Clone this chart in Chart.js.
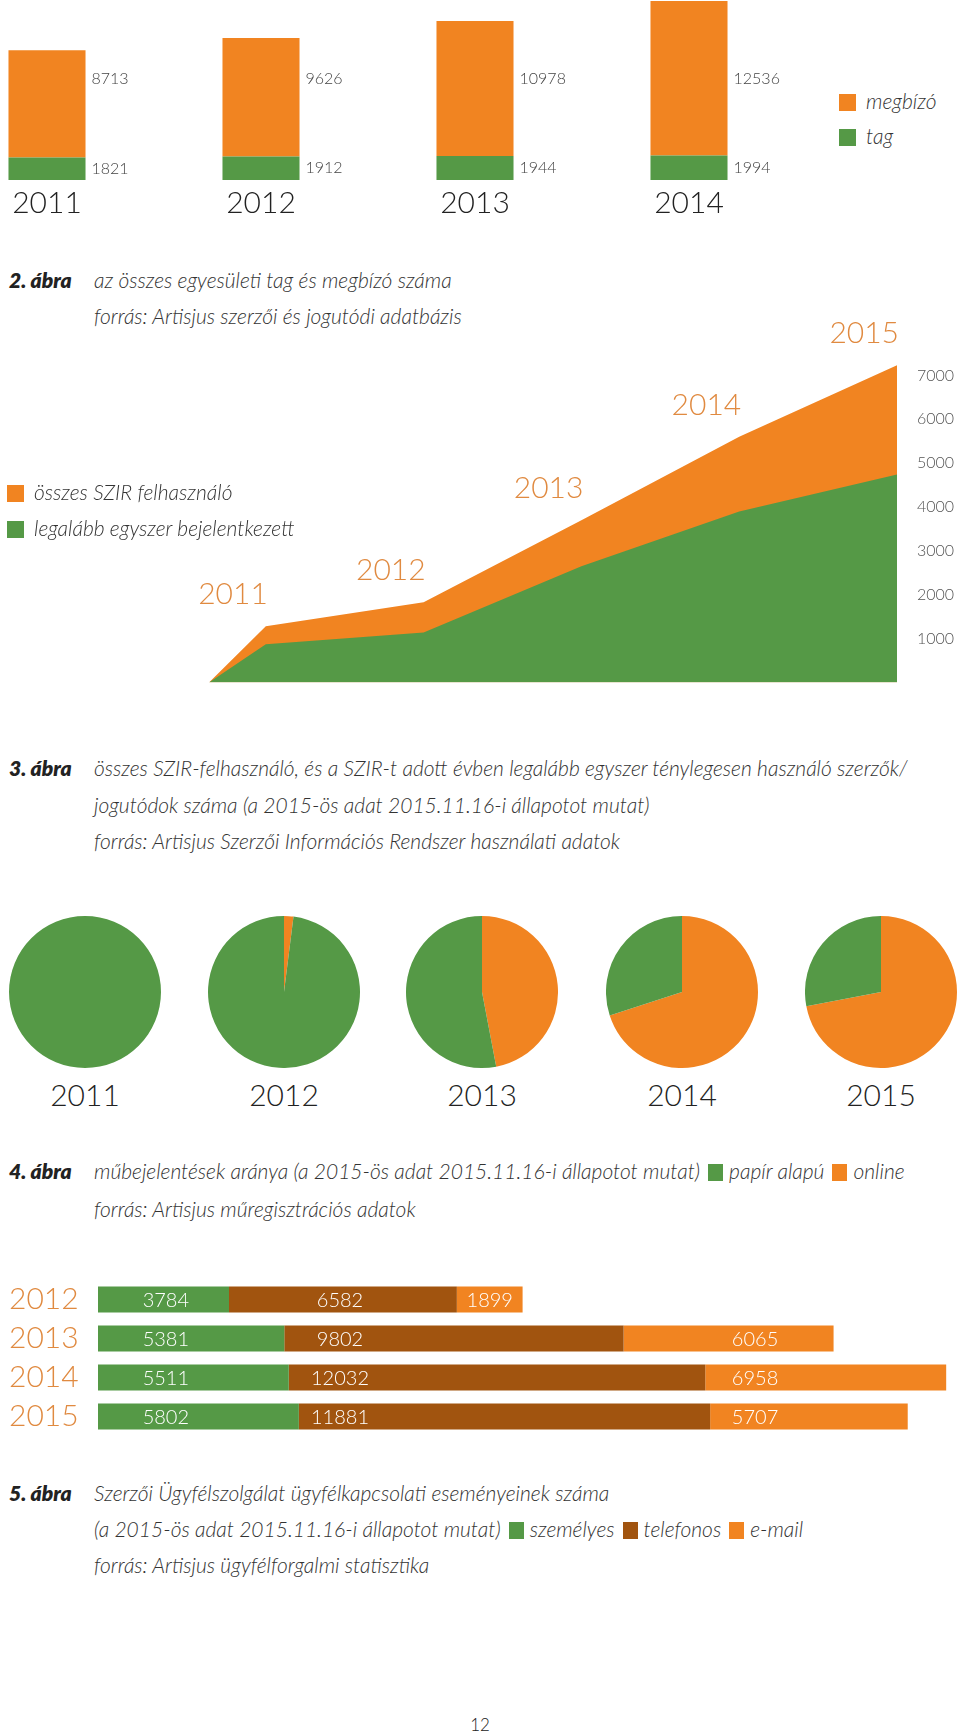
<!DOCTYPE html>
<html lang="hu">
<head>
<meta charset="utf-8">
<script src="https://cdn.jsdelivr.net/npm/chart.js@4.4.1/dist/chart.umd.min.js"></script>
<style>
  html, body { margin: 0; padding: 0; background: #fff; }
  body { width: 960px; height: 1736px; position: relative; overflow: hidden;
         font-family: Lato, 'Open Sans', sans-serif; color: #333; }
  canvas { position: absolute; }
  .cap { position: absolute; left: 9px; font-style: italic; font-weight: 300; font-size: 21px;
         line-height: 36px; white-space: nowrap; color: #333; }
  .cap b { font-weight: 800; color: #222; display: inline-block; width: 85px; }
  .cap .ind { padding-left: 85px; }
  .sq { display: inline-block; width: 15px; height: 17px; vertical-align: -2px; margin: 0 6px 0 8px; }
  .leg { position: absolute; font-style: italic; font-weight: 300; font-size: 21px; color: #333; white-space: nowrap; }
  .leg .sq { margin: 0 10px 0 0; width: 17px; height: 17px; }
  .pieyear { position: absolute; width: 120px; text-align: center; font-size: 30px; font-weight: 300;
             color: #222; line-height: 36px; }
  .pagenum { position: absolute; left: 440px; width: 80px; top: 1714px; text-align: center;
             font-size: 17px; font-weight: 300; color: #222; }
</style>
</head>
<body>

<canvas id="c1" width="856" height="226" style="left:-60px; top:0;"></canvas>
<div class="leg" style="left:839px; top:88px;"><span class="sq" style="background:#F18421"></span>megbízó</div>
<div class="leg" style="left:839px; top:123px;"><span class="sq" style="background:#559946"></span>tag</div>

<div class="cap" style="top:262px;">
  <div><b>2. ábra</b>az összes egyesületi tag és megbízó száma</div>
  <div class="ind">forrás: Artisjus szerzői és jogutódi adatbázis</div>
</div>

<canvas id="c2" width="960" height="410" style="left:0; top:302px;"></canvas>
<div class="leg" style="left:7px; top:479px;"><span class="sq" style="background:#F18421"></span>összes SZIR felhasználó</div>
<div class="leg" style="left:7px; top:515px;"><span class="sq" style="background:#559946"></span>legalább egyszer bejelentkezett</div>

<div class="cap" style="top:750px; line-height:36.5px;">
  <div><b>3. ábra</b>összes SZIR-felhasználó, és a SZIR-t adott évben legalább egyszer ténylegesen használó szerzők/</div>
  <div class="ind">jogutódok száma (a 2015-ös adat 2015.11.16-i állapotot mutat)</div>
  <div class="ind">forrás: Artisjus Szerzői Információs Rendszer használati adatok</div>
</div>

<div id="pies"></div>

<div class="cap" style="top:1152px; line-height:38px;">
  <div><b>4. ábra</b>műbejelentések aránya (a 2015-ös adat 2015.11.16-i állapotot mutat)<span class="sq" style="background:#559946"></span>papír alapú<span class="sq" style="background:#F18421"></span>online</div>
  <div class="ind">forrás: Artisjus műregisztrációs adatok</div>
</div>

<canvas id="c5" width="960" height="192" style="left:0; top:1262px;"></canvas>

<div class="cap" style="top:1475px;">
  <div><b>5. ábra</b>Szerzői Ügyfélszolgálat ügyfélkapcsolati eseményeinek száma</div>
  <div class="ind">(a 2015-ös adat 2015.11.16-i állapotot mutat)<span class="sq" style="background:#559946"></span>személyes<span class="sq" style="background:#A1540F"></span>telefonos<span class="sq" style="background:#F18421"></span>e-mail</div>
  <div class="ind">forrás: Artisjus ügyfélforgalmi statisztika</div>
</div>

<div class="pagenum">12</div>

<script>
  // 2. ábra – tagok és megbízók
  const MEMBER_YEARS = ['2011', '2012', '2013', '2014'];
  const TAG = [1821, 1912, 1944, 1994];
  const MEGBIZO = [8713, 9626, 10978, 12536];

  // 3. ábra – SZIR felhasználók (első pont: nulláról induló kezdőpont)
  const SZIR_X = [2010.64, 2011, 2012, 2013, 2014, 2015];
  const SZIR_YEARS = ['2011', '2012', '2013', '2014', '2015'];
  const SZIR_OSSZES = [0, 1280, 1830, 3700, 5600, 7230];
  const SZIR_BELEPETT = [0, 870, 1140, 2650, 3900, 4740];
  const SZIR_TICKS = [1000, 2000, 3000, 4000, 5000, 6000, 7000];

  // 4. ábra – műbejelentések aránya (%)
  const PIE_YEARS = ['2011', '2012', '2013', '2014', '2015'];
  const PAPIR = [100, 98, 53, 30, 28];
  const ONLINE = [0, 2, 47, 70, 72];

  // 5. ábra – ügyfélkapcsolati események
  const CONTACT_YEARS = ['2012', '2013', '2014', '2015'];
  const SZEMELYES = [3784, 5381, 5511, 5802];
  const TELEFONOS = [6582, 9802, 12032, 11881];
  const EMAIL = [1899, 6065, 6958, 5707];

  const ORANGE = '#F18421';
  const GREEN = '#559946';
  const BROWN = '#A1540F';
  const YEAR_ORANGE = '#E08A40';
  const FONT = 'Lato, "Open Sans", sans-serif';

  Chart.defaults.font.family = FONT;
  Chart.defaults.animation = false;
  Chart.defaults.plugins.legend.display = false;
  Chart.defaults.plugins.tooltip.enabled = false;

  // ---- 2. ábra ----
  const TOP_LABEL_LEVEL = 8250;
  const memberLabels = {
    id: 'memberLabels',
    afterDatasetsDraw(chart) {
      const ctx = chart.ctx;
      const yScale = chart.scales.y;
      ctx.save();
      ctx.font = '300 16px ' + FONT;
      ctx.fillStyle = '#444';
      ctx.textBaseline = 'middle';
      ctx.textAlign = 'left';
      chart.data.datasets.forEach((ds, di) => {
        chart.getDatasetMeta(di).data.forEach((bar, i) => {
          const x = bar.x + bar.width / 2 + 6;
          const y = di === 0 ? (bar.y + bar.base) / 2 : yScale.getPixelForValue(TOP_LABEL_LEVEL);
          ctx.fillText(String(ds.data[i]), x, y);
        });
      });
      ctx.restore();
    },
  };

  new Chart(document.getElementById('c1'), {
    type: 'bar',
    data: {
      labels: MEMBER_YEARS,
      datasets: [
        { label: 'tag', data: TAG, backgroundColor: GREEN },
        { label: 'megbízó', data: MEGBIZO, backgroundColor: ORANGE },
      ],
    },
    options: {
      responsive: false,
      layout: { padding: 0 },
      datasets: { bar: { categoryPercentage: 1, barPercentage: 0.36 } },
      scales: {
        x: {
          stacked: true,
          grid: { display: false, drawTicks: false },
          border: { display: false },
          ticks: { padding: 5, color: '#222', font: { size: 30, weight: '300' } },
        },
        y: { stacked: true, display: false, min: 0, max: 14620 },
      },
    },
    plugins: [memberLabels],
  });

  // ---- 3. ábra ----
  const szirYearLabels = {
    id: 'szirYearLabels',
    afterDatasetsDraw(chart) {
      const ctx = chart.ctx;
      const pts = chart.getDatasetMeta(1).data;
      ctx.save();
      ctx.font = '300 30px ' + FONT;
      ctx.fillStyle = YEAR_ORANGE;
      ctx.textBaseline = 'middle';
      ctx.textAlign = 'right';
      SZIR_YEARS.forEach((year, i) => {
        const p = pts[i + 1];
        ctx.fillText(year, p.x + 2, p.y - 32);
      });
      ctx.restore();
    },
  };

  new Chart(document.getElementById('c2'), {
    type: 'line',
    data: {
      datasets: [
        {
          label: 'legalább egyszer bejelentkezett',
          data: SZIR_X.map((x, i) => ({ x, y: SZIR_BELEPETT[i] })),
          backgroundColor: GREEN, borderWidth: 0, pointRadius: 0, fill: 'origin', tension: 0,
        },
        {
          label: 'összes SZIR felhasználó',
          data: SZIR_X.map((x, i) => ({ x, y: SZIR_OSSZES[i] })),
          backgroundColor: ORANGE, borderWidth: 0, pointRadius: 0, fill: 'origin', tension: 0,
        },
      ],
    },
    options: {
      responsive: false,
      // the y axis reserves ~30px above and below itself (label half height + tick padding)
      layout: { padding: { left: 209, top: 0, bottom: 0, right: 0 } },
      scales: {
        x: { type: 'linear', display: false, min: SZIR_X[0], max: SZIR_X[SZIR_X.length - 1] },
        y: {
          position: 'right', min: 0, max: 8000,
          afterFit(scale) { scale.width = 63; },
          afterBuildTicks(scale) { scale.ticks = SZIR_TICKS.map((v) => ({ value: v })); },
          grid: { display: false, drawTicks: false },
          border: { display: false },
          ticks: {
            padding: 20, color: '#555', font: { size: 16, weight: '300' },
            callback: (v) => String(v),
          },
        },
      },
    },
    plugins: [szirYearLabels],
  });

  // ---- 4. ábra ----
  const PIE_CENTERS = [85, 284, 482, 682, 881];
  const pieBox = document.getElementById('pies');
  PIE_YEARS.forEach((year, i) => {
    const cv = document.createElement('canvas');
    cv.width = 152; cv.height = 152;
    cv.style.left = (PIE_CENTERS[i] - 76) + 'px';
    cv.style.top = '916px';
    pieBox.appendChild(cv);
    const lbl = document.createElement('div');
    lbl.className = 'pieyear';
    lbl.style.left = (PIE_CENTERS[i] - 60) + 'px';
    lbl.style.top = '1076px';
    lbl.textContent = year;
    pieBox.appendChild(lbl);
    new Chart(cv, {
      type: 'pie',
      data: {
        labels: ['online', 'papír alapú'],
        datasets: [{ data: [ONLINE[i], PAPIR[i]], backgroundColor: [ORANGE, GREEN], borderWidth: 0 }],
      },
      options: { responsive: false, layout: { padding: 0 } },
    });
  });

  // ---- 5. ábra ----
  const IN_BAR_ANCHORS = [1960, 6990, 18980];
  const contactLabels = {
    id: 'contactLabels',
    afterDatasetsDraw(chart) {
      const ctx = chart.ctx;
      const xScale = chart.scales.x;
      ctx.save();
      ctx.font = '300 20px ' + FONT;
      ctx.fillStyle = '#fff';
      ctx.textBaseline = 'middle';
      ctx.textAlign = 'center';
      chart.data.datasets.forEach((ds, di) => {
        const anchor = xScale.getPixelForValue(IN_BAR_ANCHORS[di]);
        chart.getDatasetMeta(di).data.forEach((bar, i) => {
          const text = String(ds.data[i]);
          const half = ctx.measureText(text).width / 2;
          const left = Math.min(bar.base, bar.x);
          const right = Math.max(bar.base, bar.x);
          let x = anchor;
          if (x - half < left + 4 || x + half > right - 4) x = (left + right) / 2;
          ctx.fillText(text, x, bar.y + 1);
        });
      });
      ctx.restore();
    },
  };

  new Chart(document.getElementById('c5'), {
    type: 'bar',
    data: {
      labels: CONTACT_YEARS,
      datasets: [
        { label: 'személyes', data: SZEMELYES, backgroundColor: GREEN },
        { label: 'telefonos', data: TELEFONOS, backgroundColor: BROWN },
        { label: 'e-mail', data: EMAIL, backgroundColor: ORANGE },
      ],
    },
    options: {
      responsive: false,
      indexAxis: 'y',
      // the y axis labels reserve 18px above and below the bars
      layout: { padding: { left: 9, top: 0, bottom: 0, right: 0 } },
      datasets: { bar: { categoryPercentage: 1, barPercentage: 26 / 39 } },
      scales: {
        x: { stacked: true, display: false, min: 0, max: 24900 },
        y: {
          stacked: true,
          afterFit(scale) { scale.width = 89; },
          grid: { display: false, drawTicks: false },
          border: { display: false },
          ticks: { padding: 0, crossAlign: 'far', color: YEAR_ORANGE, font: { size: 30, weight: '300' } },
        },
      },
    },
    plugins: [contactLabels],
  });
</script>
</body>
</html>
